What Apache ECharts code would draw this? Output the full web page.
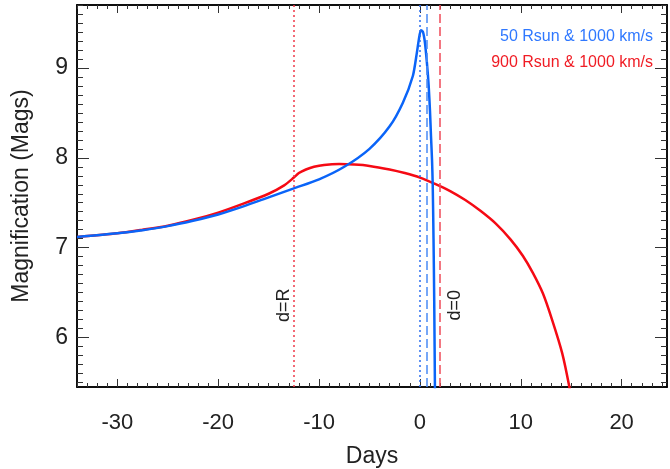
<!DOCTYPE html>
<html>
<head>
<meta charset="utf-8">
<script src="https://cdn.jsdelivr.net/npm/echarts@6/dist/echarts.min.js"></script>
<style>
html,body{margin:0;padding:0;background:#fff;}
#chart{width:670px;height:469px;}
</style>
</head>
<body>
<div id="chart"></div>
<script>
// ---- data (days, magnification) ----
const blueDays = [-34, -30, -27.5, -25, -22.5, -20, -17.5, -15, -12.5, -10, -7.5, -5, -3.0, -1.7, -0.7, -0.3, -0.1, 0.1, 0.3, 0.5, 0.7, 0.87, 1.0, 1.1, 1.2, 1.27, 1.35, 1.42, 1.5];
const blueMags = [7.12, 7.16, 7.195, 7.24, 7.30, 7.37, 7.46, 7.56, 7.66, 7.76, 7.90, 8.10, 8.35, 8.61, 8.91, 9.17, 9.32, 9.42, 9.40, 9.28, 9.05, 8.80, 8.52, 8.24, 7.98, 7.70, 7.10, 6.40, 5.30];
const redDays = [-34, -30, -27.5, -25, -22.5, -20, -17.5, -15, -13.5, -12.5, -12.0, -11.3, -10.5, -9.5, -8.0, -6.5, -5.0, -3.0, -1.5, 0.0, 1.5, 3.0, 4.5, 6.0, 7.5, 9.0, 10.2, 11.2, 12.2, 13.1, 14.1, 14.8, 15.0];
const redMags = [7.12, 7.16, 7.20, 7.245, 7.31, 7.39, 7.49, 7.60, 7.69, 7.78, 7.83, 7.87, 7.90, 7.92, 7.93, 7.925, 7.91, 7.87, 7.83, 7.78, 7.71, 7.63, 7.53, 7.41, 7.27, 7.09, 6.91, 6.72, 6.49, 6.20, 5.83, 5.46, 5.30];

const dEqualsR = -12.5;   // red dotted
const blueStart = 0.0;    // blue dotted
const blueD0 = 0.7;       // blue dashed
const redD0 = 2.0;        // red dashed

const xTickLabels = [-30, -20, -10, 0, 10, 20];
const yTickLabels = [6, 7, 8, 9];
const xRange = [-34, 24.5];
const yRange = [5.45, 9.7];

const legendTexts = ['50 Rsun & 1000 km/s', '900 Rsun & 1000 km/s'];

// ---- build ----
const BLUE = '#0a64f8', RED = '#f50a14';
const xMinor = []; for (let v = -34; v <= 24; v++) xMinor.push(v);
const yMinor = []; for (let i = 55; i <= 97; i++) yMinor.push(i / 10);
const FONT = '"Liberation Sans", Arial, sans-serif';

function xAx(pos, ticks, len, labels) {
  return {
    type: 'value', position: pos, min: xRange[0], max: xRange[1],
    axisLine: { show: true, onZero: false, lineStyle: { color: '#000', width: 1.5 } },
    axisTick: { show: true, inside: true, length: len, customValues: ticks, lineStyle: { color: '#333', width: 1 } },
    axisLabel: labels ? { show: true, customValues: xTickLabels, fontSize: 22, color: '#222', fontFamily: FONT, margin: 25 } : { show: false },
    splitLine: { show: false },
    name: labels ? 'Days' : '', nameLocation: 'middle', nameGap: 58,
    nameTextStyle: { fontSize: 23, color: '#222', fontFamily: FONT }
  };
}
function yAx(pos, ticks, len, labels) {
  return {
    type: 'value', position: pos, min: yRange[0], max: yRange[1],
    axisLine: { show: true, onZero: false, lineStyle: { color: '#000', width: 1.5 } },
    axisTick: { show: true, inside: true, length: len, customValues: ticks, lineStyle: { color: '#333', width: 1 } },
    axisLabel: labels ? { show: true, customValues: yTickLabels, fontSize: 23, color: '#222', fontFamily: FONT, margin: 9 } : { show: false },
    splitLine: { show: false },
    name: labels ? 'Magnification (Mags)' : '', nameLocation: 'middle', nameGap: 44,
    nameTextStyle: { fontSize: 23, color: '#222', fontFamily: FONT }
  };
}

function vline(x, color, type) {
  return {
    type: 'line', xAxisIndex: 0, yAxisIndex: 0, symbol: 'none', silent: true,
    data: [], markLine: {
      silent: true, symbol: 'none', label: { show: false },
      lineStyle: { color: color, type: type, width: 1.5 },
      data: [{ xAxis: x }]
    }
  };
}

const chart = echarts.init(document.getElementById('chart'), null, { renderer: 'canvas' });
chart.setOption({
  animation: false,
  backgroundColor: '#fff',
  grid: { left: 77, right: 3, top: 5, bottom: 82, containLabel: false, outerBoundsMode: 'none' },
  xAxis: [
    xAx('bottom', xTickLabels, 8, true),
    xAx('bottom', xMinor, 4, false),
    xAx('top', xTickLabels, 8, false),
    xAx('top', xMinor, 4, false)
  ],
  yAxis: [
    yAx('left', yTickLabels, 12, true),
    yAx('left', yMinor, 6, false),
    yAx('right', yTickLabels, 12, false),
    yAx('right', yMinor, 6, false)
  ],
  series: [
    vline(dEqualsR, '#f03848', [2, 3]),
    vline(blueStart, '#2a6ef0', [2, 3]),
    vline(blueD0, '#4a8af5', [9, 4]),
    vline(redD0, '#f04a58', [9, 4]),
    {
      type: 'line', xAxisIndex: 0, yAxisIndex: 0, symbol: 'none', smooth: 0.25,
      clip: true, lineStyle: { color: RED, width: 2.5 },
      data: redDays.map((d, i) => [d, redMags[i]])
    },
    {
      type: 'line', xAxisIndex: 0, yAxisIndex: 0, symbol: 'none', smooth: 0.25,
      clip: true, lineStyle: { color: BLUE, width: 2.5 },
      data: blueDays.map((d, i) => [d, blueMags[i]])
    }
  ]
});

const pR = chart.convertToPixel({ xAxisIndex: 0, yAxisIndex: 0 }, [dEqualsR, 6.36]);
const p0 = chart.convertToPixel({ xAxisIndex: 0, yAxisIndex: 0 }, [redD0, 6.36]);
chart.setOption({
  graphic: [
    { type: 'text', x: 653, y: 37, style: { text: legendTexts[0], fill: '#2f78ff', font: '16px ' + FONT, textAlign: 'right', textVerticalAlign: 'middle' } },
    { type: 'text', x: 653, y: 63, style: { text: legendTexts[1], fill: '#f01c24', font: '16px ' + FONT, textAlign: 'right', textVerticalAlign: 'middle' } },
    { type: 'text', x: pR[0] - 10, y: pR[1], rotation: Math.PI / 2, style: { text: 'd=R', fill: '#222', font: '18px ' + FONT, textAlign: 'center', textVerticalAlign: 'middle' } },
    { type: 'text', x: p0[0] + 15, y: p0[1], rotation: Math.PI / 2, style: { text: 'd=0', fill: '#222', font: '18px ' + FONT, textAlign: 'center', textVerticalAlign: 'middle' } }
  ]
});
</script>
</body>
</html>
